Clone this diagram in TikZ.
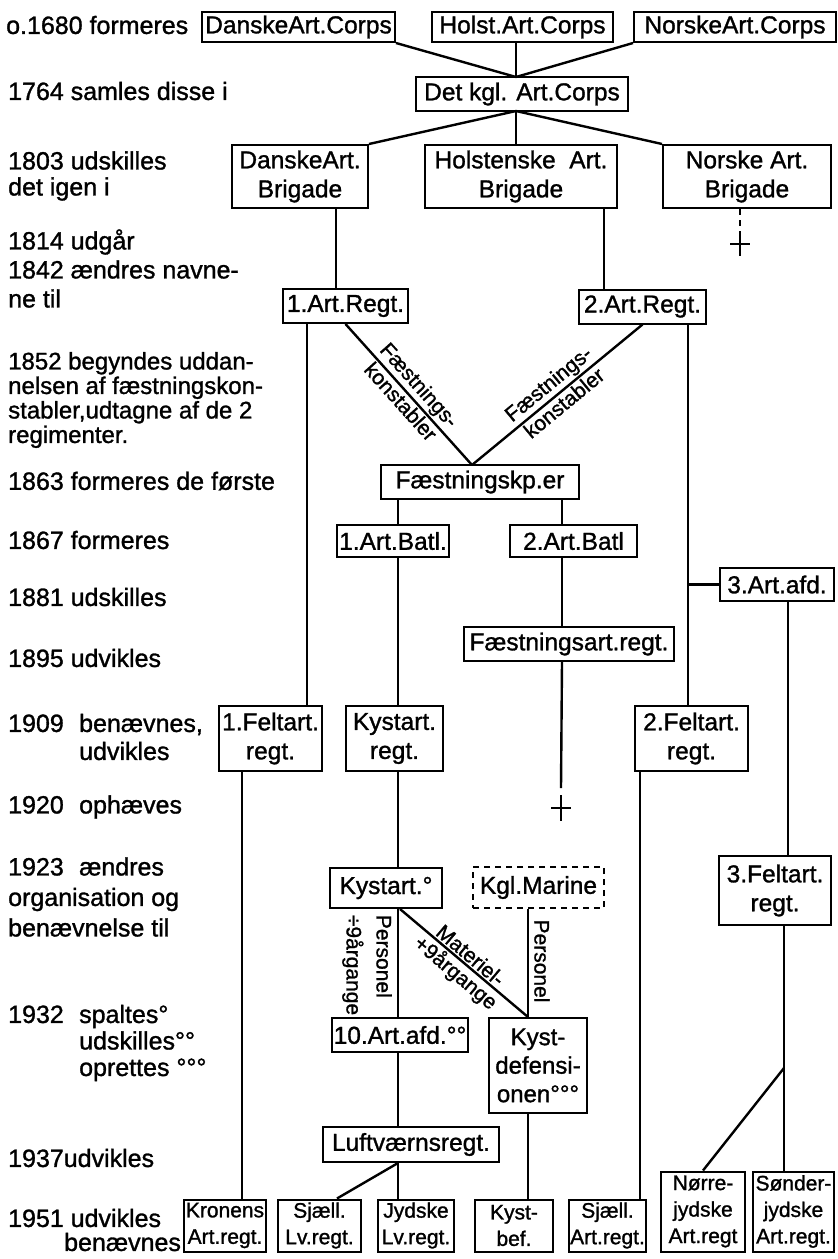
\documentclass[tikz,border=0pt]{standalone}
\usepackage{fontspec}
\setmainfont{Liberation Sans}[FakeBold=1.2]
\begin{document}
\begin{tikzpicture}[x=1pt,y=1pt,
  bx/.style={draw, line width=2pt, inner sep=1pt, align=center, font=\fontsize{24.5}{29}\selectfont},
  sbx/.style={bx, font=\fontsize{21}{26.5}\selectfont},
  ln/.style={line width=2.4pt},
  lbl/.style={anchor=west, inner sep=0pt, align=left},
  dlab/.style={font=\fontsize{21}{24}\selectfont, inner sep=1.5pt, sloped},
  vlab/.style={font=\fontsize{21}{30}\selectfont, inner sep=0pt, rotate=-90}
]
\useasboundingbox (0,0) rectangle (838,-1259);

% ---------- left column labels ----------
\node[lbl, font=\fontsize{25}{30}\selectfont] (l1) at (6,-25) {o.1680 formeres};
\node[lbl, font=\fontsize{25}{30}\selectfont] (l2) at (8,-91) {1764 samles disse i};
\node[lbl, font=\fontsize{25}{26}\selectfont] (l3) at (8,-176) {1803 udskilles\\det igen i};
\node[lbl, font=\fontsize{25}{30}\selectfont] (l4) at (8,-242) {1814 udgår};
\node[lbl, font=\fontsize{25}{29}\selectfont] (l5) at (8,-284) {1842 ændres navne-\\ne til};
\node[lbl, font=\fontsize{24}{24.5}\selectfont] (l6) at (8,-400) {1852 begyndes uddan-\\nelsen af fæstningskon-\\stabler,udtagne af de 2\\regimenter.};
\node[lbl, font=\fontsize{25}{30}\selectfont] (l7) at (8,-481) {1863 formeres de første};
\node[lbl, font=\fontsize{25}{30}\selectfont] (l8) at (8,-540) {1867 formeres};
\node[lbl, font=\fontsize{25}{30}\selectfont] (l9) at (8,-597) {1881 udskilles};
\node[lbl, font=\fontsize{25}{30}\selectfont] (l10) at (8,-658) {1895 udvikles};
\node[lbl, font=\fontsize{25}{28}\selectfont] (l11) at (8,-737) {\makebox[71pt][l]{1909}benævnes,\\\hspace*{71pt}udvikles};
\node[lbl, font=\fontsize{25}{30}\selectfont] (l12) at (8,-807) {\makebox[71pt][l]{1920}ophæves};
\node[lbl, font=\fontsize{25}{30.5}\selectfont] (l13) at (8,-897) {\makebox[71pt][l]{1923}ændres\\organisation og\\benævnelse til};
\node[lbl, font=\fontsize{25}{26.5}\selectfont] (l14) at (8,-1043) {\makebox[71pt][l]{1932}spaltes°\\\hspace*{71pt}udskilles°°\\\hspace*{71pt}oprettes °°°};
\node[lbl, font=\fontsize{25}{30}\selectfont] (l15) at (8,-1158) {1937udvikles};
\node[lbl, font=\fontsize{25}{24}\selectfont] (l16) at (8,-1230) {1951 udvikles\\\hspace*{56pt}benævnes};

% ---------- boxes ----------
\node[bx, minimum width=193pt, minimum height=30pt] (dac) at (298.5,-27) {DanskeArt.Corps};
\node[bx, minimum width=181pt, minimum height=30pt] (hac) at (522.5,-27) {Holst.Art.Corps};
\node[bx, minimum width=202pt, minimum height=30pt] (nac) at (735,-27) {NorskeArt.Corps};
\node[bx, minimum width=212pt, minimum height=34pt] (kgl) at (522,-94) {Det kgl. Art.Corps};
\node[bx, minimum width=136pt, minimum height=63pt] (dab) at (300,-176.5) {DanskeArt.\\Brigade};
\node[bx, minimum width=192pt, minimum height=63pt] (hab) at (521,-176.5) {Holstenske\ \ Art.\\Brigade};
\node[bx, minimum width=168pt, minimum height=63pt] (nab) at (747,-176.5) {Norske Art.\\Brigade};
\node[bx, minimum width=125pt, minimum height=34pt] (rega) at (345.5,-306) {1.Art.Regt.};
\node[bx, minimum width=127pt, minimum height=34pt] (regb) at (642.5,-306.5) {2.Art.Regt.};
\node[bx, minimum width=198pt, minimum height=34pt] (fkp) at (480,-482) {Fæstningskp.er};
\node[bx, minimum width=112pt, minimum height=32pt] (batl1) at (393,-541) {1.Art.Batl.};
\node[bx, minimum width=127pt, minimum height=32pt] (batl2) at (573.5,-541) {2.Art.Batl};
\node[bx, minimum width=114pt, minimum height=33pt] (art3) at (777,-584.5) {3.Art.afd.};
\node[bx, minimum width=210pt, minimum height=34pt] (fart) at (569,-644) {Fæstningsart.regt.};
\node[bx, minimum width=103pt, minimum height=65pt] (felt1) at (270.5,-738.5) {1.Feltart.\\regt.};
\node[bx, minimum width=97pt, minimum height=65pt] (kyst) at (394.5,-738.5) {Kystart.\\regt.};
\node[bx, minimum width=113pt, minimum height=65pt] (felt2) at (691.5,-738.5) {2.Feltart.\\regt.};
\node[bx, minimum width=112pt, minimum height=40pt] (kyo) at (386,-888) {Kystart.°};
\node[bx, dashed, dash pattern=on 6pt off 5pt, minimum width=131pt, minimum height=41pt] (km) at (538.5,-887.5) {Kgl.Marine};
\node[bx, minimum width=112pt, minimum height=69pt] (feltt3) at (775,-890.5) {3.Feltart.\\regt.};
\node[bx, minimum width=136pt, minimum height=34pt] (afd10) at (400,-1035) {10.Art.afd.°°};
\node[bx, minimum width=98pt, minimum height=95pt, font=\fontsize{24}{28.5}\selectfont] (kdef) at (538,-1065.5) {Kyst-\\defensi-\\onen°°°};
\node[bx, minimum width=176pt, minimum height=35pt] (luft) at (411,-1144.5) {Luftværnsregt.};
\node[sbx, minimum width=82pt, minimum height=52pt] (kron) at (225,-1225.5) {Kronens\\Art.regt.};
\node[sbx, minimum width=83pt, minimum height=52pt] (sjlv) at (319.5,-1225.5) {Sjæll.\\Lv.regt.};
\node[sbx, minimum width=76pt, minimum height=52pt] (jylv) at (416,-1225.5) {Jydske\\Lv.regt.};
\node[sbx, minimum width=78pt, minimum height=52pt] (kbef) at (514,-1225.5) {Kyst-\\bef.};
\node[sbx, minimum width=77pt, minimum height=52pt] (sjart) at (607.5,-1225.5) {Sjæll.\\Art.regt.};
\node[sbx, minimum width=84pt, minimum height=80pt] (nj) at (703,-1211.5) {Nørre-\\jydske\\Art.regt};
\node[sbx, minimum width=81pt, minimum height=80pt] (sj) at (793.5,-1211.5) {Sønder-\\jydske\\Art.regt.};

% ---------- helper coordinates ----------
\coordinate (ap) at (516,-77);
\coordinate (bp) at (516,-111);
\coordinate (xa) at (336,0);
\coordinate (xb) at (604,0);
\coordinate (xc) at (740,0);
\coordinate (cr1) at (740,-244);
\coordinate (fa) at (472,-465);
\coordinate (xl1) at (307,0);
\coordinate (xk) at (242,0);
\coordinate (xr1) at (688,0);
\coordinate (xs) at (640,0);
\coordinate (xm) at (398,0);
\coordinate (xn) at (562,0);
\coordinate (cr2) at (561,-808);
\coordinate (xt) at (788,0);
\coordinate (xu) at (784,0);
\coordinate (br3) at (784,-1068);
\coordinate (xd) at (400,0);
\coordinate (xkm) at (528,0);

% ---------- connectors ----------
\draw[ln] (dac.south east) -- (ap);
\draw[ln] (hac.south -| ap) -- (ap);
\draw[ln] (nac.south west) -- (ap);
\draw[ln] (bp) -- (dab.north east);
\draw[ln] (bp) -- (hab.north -| bp);
\draw[ln] (bp) -- (nab.north west);
\draw[ln] (dab.south -| xa) -- (rega.north -| xa);
\draw[ln] (hab.south -| xb) -- (regb.north -| xb);
\draw[ln, dash pattern=on 6pt off 5pt] (nab.south -| xc) -- ([yshift=12pt]cr1);
\draw[ln] ([xshift=-10pt]cr1) -- ([xshift=10pt]cr1);
\draw[ln] ([yshift=12pt]cr1) -- ([yshift=-12pt]cr1);

\draw[ln] (rega.south) -- node[dlab, anchor=south] (lfa) {Fæstnings-} node[dlab, anchor=north] (lfb) {konstabler} (fa);
\draw[ln] (fa) -- node[dlab, anchor=south] (rfa) {Fæstnings-} node[dlab, anchor=north] (rfb) {konstabler} (regb.south);

\draw[ln] (rega.south -| xl1) -- (felt1.north -| xl1);
\draw[ln] (felt1.south -| xk) -- (kron.north -| xk);
\draw[ln] (regb.south -| xr1) -- (felt2.north -| xr1);
\draw[ln] (art3.west -| xr1) -- (art3.west);
\draw[ln] (felt2.south -| xs) -- (sjart.north -| xs);

\draw[ln] (fkp.south -| xm) -- (batl1.north -| xm);
\draw[ln] (batl1.south -| xm) -- (kyst.north -| xm);
\draw[ln] (kyst.south -| xm) -- (kyo.north -| xm);
\draw[ln] (kyo.south -| xm) -- (afd10.north -| xm);
\draw[ln] (afd10.south -| xm) -- (luft.north -| xm);
\draw[ln] (luft.south -| xm) -- (jylv.north -| xm);
\draw[ln] (luft.south -| xm) -- ([xshift=17.5pt]sjlv.north);

\draw[ln] (fkp.south -| xn) -- (batl2.north -| xn);
\draw[ln] (batl2.south -| xn) -- (fart.north -| xn);
\draw[ln] (fart.south -| xn) -- ([yshift=20pt]cr2);
\draw[ln] ([xshift=-10pt]cr2) -- ([xshift=10pt]cr2);
\draw[ln] ([yshift=13pt]cr2) -- ([yshift=-13pt]cr2);

\draw[ln] (art3.south -| xt) -- (feltt3.north -| xt);
\draw[ln] (feltt3.south -| xu) -- (sj.north -| xu);
\draw[ln] (br3) -- (nj.north);

\draw[ln] (kyo.south -| xd) -- node[dlab, anchor=south] (mla) {Materiel-} node[dlab, anchor=north] (mlb) {+9årgange} (kdef.north -| xkm);
\draw[ln] (km.south -| xkm) -- (kdef.north -| xkm);
\draw[ln] (kdef.south -| xkm) -- (kbef.north -| xkm);

\node[vlab, align=left] (pa) at (367,-965) {Personel\\÷9årgange};
\node[vlab] (pb) at (542,-961) {Personel};
\end{tikzpicture}
\end{document}
